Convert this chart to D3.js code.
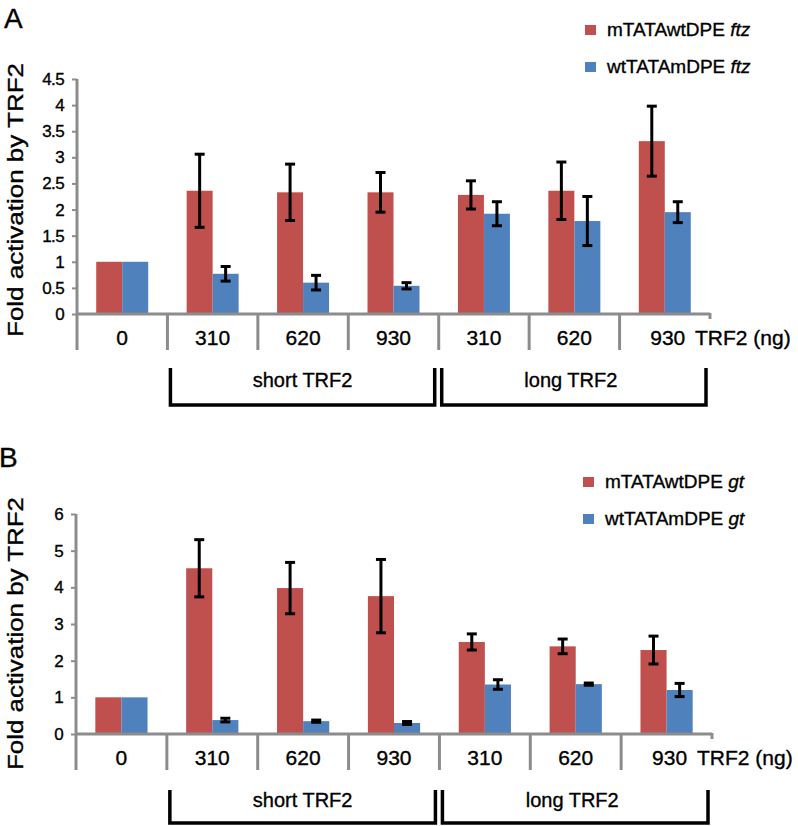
<!DOCTYPE html>
<html>
<head>
<meta charset="utf-8">
<script src="https://cdn.jsdelivr.net/npm/d3@7"></script>
<style>
  html, body { margin: 0; padding: 0; background: #fff; }
  svg { display: block; font-family: Arial, "Liberation Sans", sans-serif; }
  svg text { stroke: #000; stroke-width: 0.35px; }
</style>
</head>
<body>
<svg id="chart" width="798" height="826"></svg>
<script>
// ---------- data ----------
const categories = ["0", "310", "620", "930", "310", "620", "930"];
const groupLabels = ["short TRF2", "long TRF2"];

const ftzRed     = [1.00, 2.36, 2.33, 2.33, 2.28, 2.36, 3.31];
const ftzRedErr  = [0,    0.70, 0.54, 0.38, 0.27, 0.55, 0.67];
const ftzBlue    = [1.00, 0.77, 0.60, 0.54, 1.92, 1.78, 1.95];
const ftzBlueErr = [0,    0.14, 0.14, 0.06, 0.23, 0.47, 0.20];

const gtRed      = [1.00, 4.52, 3.98, 3.76, 2.51, 2.39, 2.29];
const gtRedErr   = [0,    0.78, 0.70, 1.00, 0.22, 0.20, 0.38];
const gtBlue     = [1.00, 0.38, 0.35, 0.30, 1.35, 1.36, 1.20];
const gtBlueErr  = [0,    0.05, 0.03, 0.04, 0.13, 0.03, 0.18];

const ticksA = [0, 0.5, 1, 1.5, 2, 2.5, 3, 3.5, 4, 4.5];
const ticksB = [0, 1, 2, 3, 4, 5, 6];

const legendA = [["mTATAwtDPE ", "ftz"], ["wtTATAmDPE ", "ftz"]];
const legendB = [["mTATAwtDPE ", "gt"], ["wtTATAmDPE ", "gt"]];

const RED = "#C0504D", BLUE = "#4F81BD", AXIS = "#8c8c8c";

const svg = d3.select("#chart");

function panel(cfg) {
  const g = svg.append("g");
  const x = d3.scaleBand().domain(d3.range(categories.length)).range(cfg.xRange).padding(0);
  const bw = x.bandwidth();
  const inner = d3.scaleBand().domain(["red", "blue"]).range([0, bw]).paddingInner(0).paddingOuter(0.74);
  const y = d3.scaleLinear().domain([0, d3.max(cfg.ticks)]).range(cfg.yRange);
  const y0 = y(0);

  // panel letter
  g.append("text").attr("x", cfg.letterX).attr("y", cfg.letterY)
    .attr("font-size", 28).text(cfg.letter);

  // y title
  const tx = 23, ty = (cfg.titleTop + cfg.titleBottom) / 2;
  g.append("text").attr("transform", `translate(${tx},${ty}) rotate(-90)`)
    .attr("text-anchor", "middle").attr("font-size", 22)
    .attr("textLength", cfg.titleBottom - cfg.titleTop).attr("lengthAdjust", "spacingAndGlyphs")
    .text("Fold activation by TRF2");

  // bars
  const series = [
    { key: "red", vals: cfg.red, err: cfg.redErr, color: RED },
    { key: "blue", vals: cfg.blue, err: cfg.blueErr, color: BLUE }
  ];
  series.forEach(s => {
    g.append("g").selectAll("rect").data(s.vals).join("rect")
      .attr("x", (d, i) => x(i) + inner(s.key))
      .attr("y", d => y(d))
      .attr("width", inner.bandwidth())
      .attr("height", d => y0 - y(d))
      .attr("fill", s.color);
  });

  // y axis
  const yAxis = d3.axisLeft(y).tickValues(cfg.ticks).tickSize(5).tickSizeOuter(0)
    .tickPadding(8).tickFormat(d => String(d));
  const ax = g.append("g").attr("transform", `translate(${cfg.xRange[0]},0)`).call(yAxis);
  ax.select(".domain").remove();
  ax.selectAll(".tick line").attr("stroke", AXIS).attr("stroke-width", 2);
  ax.selectAll(".tick text").attr("font-size", 17).attr("fill", "#000")
    .attr("font-family", "Arial, 'Liberation Sans', sans-serif").attr("letter-spacing", -0.6);

  // axis lines
  const ag = g.append("g").attr("stroke", AXIS).attr("stroke-width", 3).attr("fill", "none");
  ag.append("line").attr("x1", cfg.xRange[0]).attr("x2", cfg.xRange[0])
    .attr("y1", y(d3.max(cfg.ticks))).attr("y2", y0 + 36);
  ag.append("line").attr("x1", cfg.xRange[0]).attr("x2", cfg.xRange[1])
    .attr("y1", y0).attr("y2", y0);
  d3.range(1, categories.length).forEach(i => {
    ag.append("line").attr("x1", x(i)).attr("x2", x(i)).attr("y1", y0).attr("y2", y0 + 36);
  });
  ag.append("line").attr("x1", cfg.xRange[1]).attr("x2", cfg.xRange[1]).attr("y1", y0 - 1).attr("y2", y0 + 5);

  // error bars
  const eg = g.append("g").attr("stroke", "#000").attr("stroke-width", 3);
  series.forEach(s => {
    s.vals.forEach((v, i) => {
      const e = s.err[i];
      if (!e) return;
      const cx = x(i) + inner(s.key) + inner.bandwidth() / 2;
      eg.append("line").attr("x1", cx).attr("x2", cx).attr("y1", y(v + e)).attr("y2", y(v - e));
      [v + e, v - e].forEach(t => eg.append("line")
        .attr("x1", cx - 5).attr("x2", cx + 5).attr("y1", y(t)).attr("y2", y(t)));
    });
  });

  // category labels
  g.append("g").selectAll("text").data(categories).join("text")
    .attr("x", (d, i) => x(i) + bw / 2 + (i === categories.length - 1 ? 3 : 0)).attr("y", y0 + 31)
    .attr("text-anchor", "middle").attr("font-size", 21).text(d => d);
  g.append("text").attr("x", cfg.xRange[1] - 15).attr("y", y0 + 31)
    .attr("font-size", 21).text("TRF2 (ng)");

  // brackets
  const br = [[1, 3], [4, 6]];
  br.forEach((r, k) => {
    const xa = x(r[0]) + 3, xb = x(r[1]) + bw - 4;
    const top = y0 + cfg.brTop, bot = y0 + cfg.brBot;
    g.append("path").attr("d", `M${xa},${top}V${bot}H${xb}V${top}`)
      .attr("fill", "none").attr("stroke", "#000").attr("stroke-width", 3.5);
    g.append("text").attr("x", (xa + xb) / 2 + (k === 1 ? -3 : 0)).attr("y", y0 + cfg.brText)
      .attr("text-anchor", "middle").attr("font-size", 20).text(groupLabels[k]);
  });

  // legend
  cfg.legend.forEach((L, k) => {
    const by = cfg.legendY + k * 37;
    g.append("rect").attr("x", cfg.legendX).attr("y", by - 11).attr("width", 11).attr("height", 10)
      .attr("fill", k === 0 ? RED : BLUE);
    const t = g.append("text").attr("x", cfg.legendX + 22).attr("y", by).attr("font-size", 19);
    t.append("tspan").text(L[0]);
    t.append("tspan").attr("font-style", "italic").text(L[1]);
  });
}

panel({
  letter: "A", letterX: 4, letterY: 28,
  xRange: [77, 710], yRange: [314, 79], ticks: ticksA,
  titleTop: 63, titleBottom: 337,
  red: ftzRed, redErr: ftzRedErr, blue: ftzBlue, blueErr: ftzBlueErr,
  brTop: 54, brBot: 91, brText: 73,
  legend: legendA, legendX: 585, legendY: 36
});

panel({
  letter: "B", letterX: -1, letterY: 467,
  xRange: [76, 712], yRange: [734, 514], ticks: ticksB,
  titleTop: 497, titleBottom: 770,
  red: gtRed, redErr: gtRedErr, blue: gtBlue, blueErr: gtBlueErr,
  brTop: 56, brBot: 89, brText: 73,
  legend: legendB, legendX: 583, legendY: 488
});
</script>
</body>
</html>
